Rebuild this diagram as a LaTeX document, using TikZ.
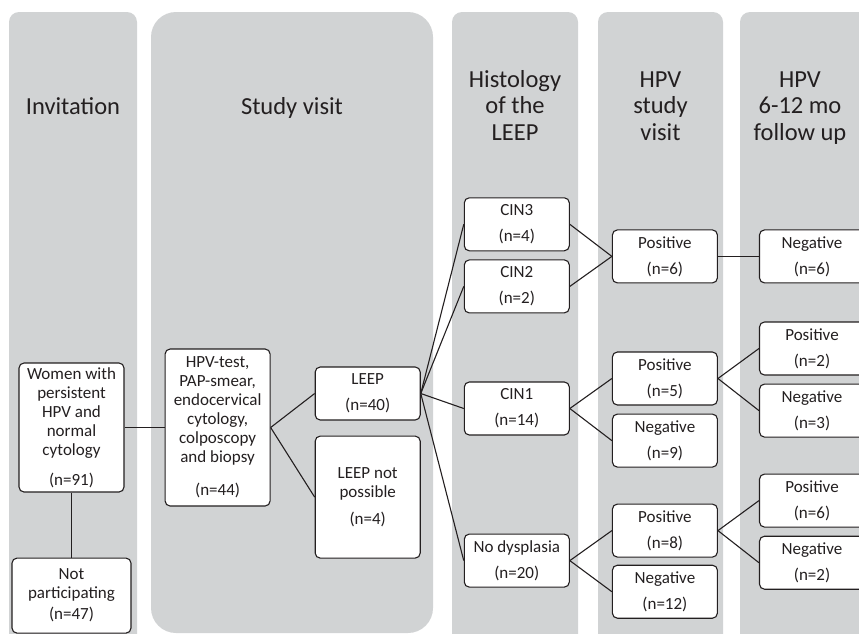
\documentclass[tikz,border=0pt]{standalone}
\usepackage{fontspec}
\setmainfont{Carlito}
\usetikzlibrary{positioning}
\definecolor{panelgray}{RGB}{209,211,212}
\definecolor{ink}{RGB}{35,31,32}

\begin{document}
\begin{tikzpicture}[x=1pt,y=-1pt,
    box/.style={rectangle,rounded corners=5pt,draw=ink,fill=white,line width=1.1pt,align=center,minimum width=105pt,minimum height=53pt,inner sep=2pt,text=ink,font=\fontsize{17}{19}\selectfont},
    head/.style={align=center,anchor=base,text=ink,font=\fontsize{24.5}{26.5}\selectfont},
    panel/.style={fill=panelgray,rounded corners=10pt}]
            \useasboundingbox (0,0) rectangle (859,633);
            \clip (0,0) rectangle (859,633);

            % columns
            \fill[panel] (9,12) rectangle (137,645);
            \fill[panel, rounded corners=25pt] (151,12) rectangle (433,633);
            \fill[panel] (452,12) rectangle (578,645);
            \fill[panel] (598,12) rectangle (723,645);
            \fill[panel] (740,12) rectangle (875,645);

            \node (h1) [head] at (73,114) {Invitation};
            \node (h2) [head] at (292,114) {Study visit};
            \node (h3) [head] at (515,140) {Histology\\of the\\LEEP};
            \node (h4) [head] at (660.5,140) {HPV\\study\\visit};
            \node (h5) [head] at (800,140) {HPV\\6-12 mo\\follow up};

            \node [box, minimum height=129pt](1) at (71.5,427.5) {Women with\\persistent\\HPV and\\normal\\cytology\\[11pt](n=91)};
            \node [box, minimum width=119pt, minimum height=75pt](2) [below=65pt of 1] {Not\\participating\\[2pt](n=47)};
            \node [box, minimum height=157pt](3) [right=40pt of 1] {HPV-test,\\PAP-smear,\\endocervical\\cytology,\\colposcopy\\and biopsy\\[14pt](n=44)};
            \node [box](4) [right=44pt of 3, yshift=34pt] {LEEP\\[7pt](n=40)};
            \node [box, minimum height=122pt](5) [below=15pt of 4] {LEEP not\\possible\\[8pt](n=4)};

            \node [box](6) [right=43pt of 4, yshift=-15pt] {CIN1\\[7pt](n=14)};
            \node [box](7) [above=68pt of 6] {CIN2\\[7pt](n=2)};
            \node [box](8) [above=8pt of 7] {CIN3\\[7pt](n=4)};
            \node [box](9) [below=98pt of 6] {No dysplasia\\[7pt](n=20)};

            \node [box](10) [right=42pt of 6, yshift=30pt] {Positive\\[7pt](n=5)};
            \node [box](11) [below=8pt of 10] {Negative\\[7pt](n=9)};
            \node [box](12) [above=68pt of 10] {Positive\\[7pt](n=6)};
            \node [box](13) [right=42pt of 9, yshift=30pt] {Positive\\[7pt](n=8)};
            \node [box](14) [below=7pt of 13] {Negative\\[7pt](n=12)};

            \node [box](15) [right=41pt of 12] {Negative\\[7pt](n=6)};
            \node [box](16) [right=41pt of 10, yshift=30pt] {Positive\\[7pt](n=2)};
            \node [box](17) [below=8pt of 16] {Negative\\[7pt](n=3)};
            \node [box](18) [right=41pt of 13, yshift=30pt] {Positive\\[7pt](n=6)};
            \node [box](19) [below=8pt of 18] {Negative\\[7pt](n=2)};

            \path[draw=ink, line width=1.1pt]
                (1) edge (2)
                (1) edge (3)
                (3.east) edge (4.west)
                (3.east) edge (5.west)
                (4.east) edge (8.west)
                (4.east) edge (7.west)
                (4.east) edge (6.west)
                (4.east) edge (9.west)
                (8.east) edge (12.west)
                (7.east) edge (12.west)
                (12) edge (15)
                (6.east) edge (10.west)
                (6.east) edge (11.west)
                (10.east) edge (16.west)
                (10.east) edge (17.west)
                (9.east) edge (13.west)
                (9.east) edge (14.west)
                (13.east) edge (18.west)
                (13.east) edge (19.west)
                ;
        \end{tikzpicture}
\end{document}
